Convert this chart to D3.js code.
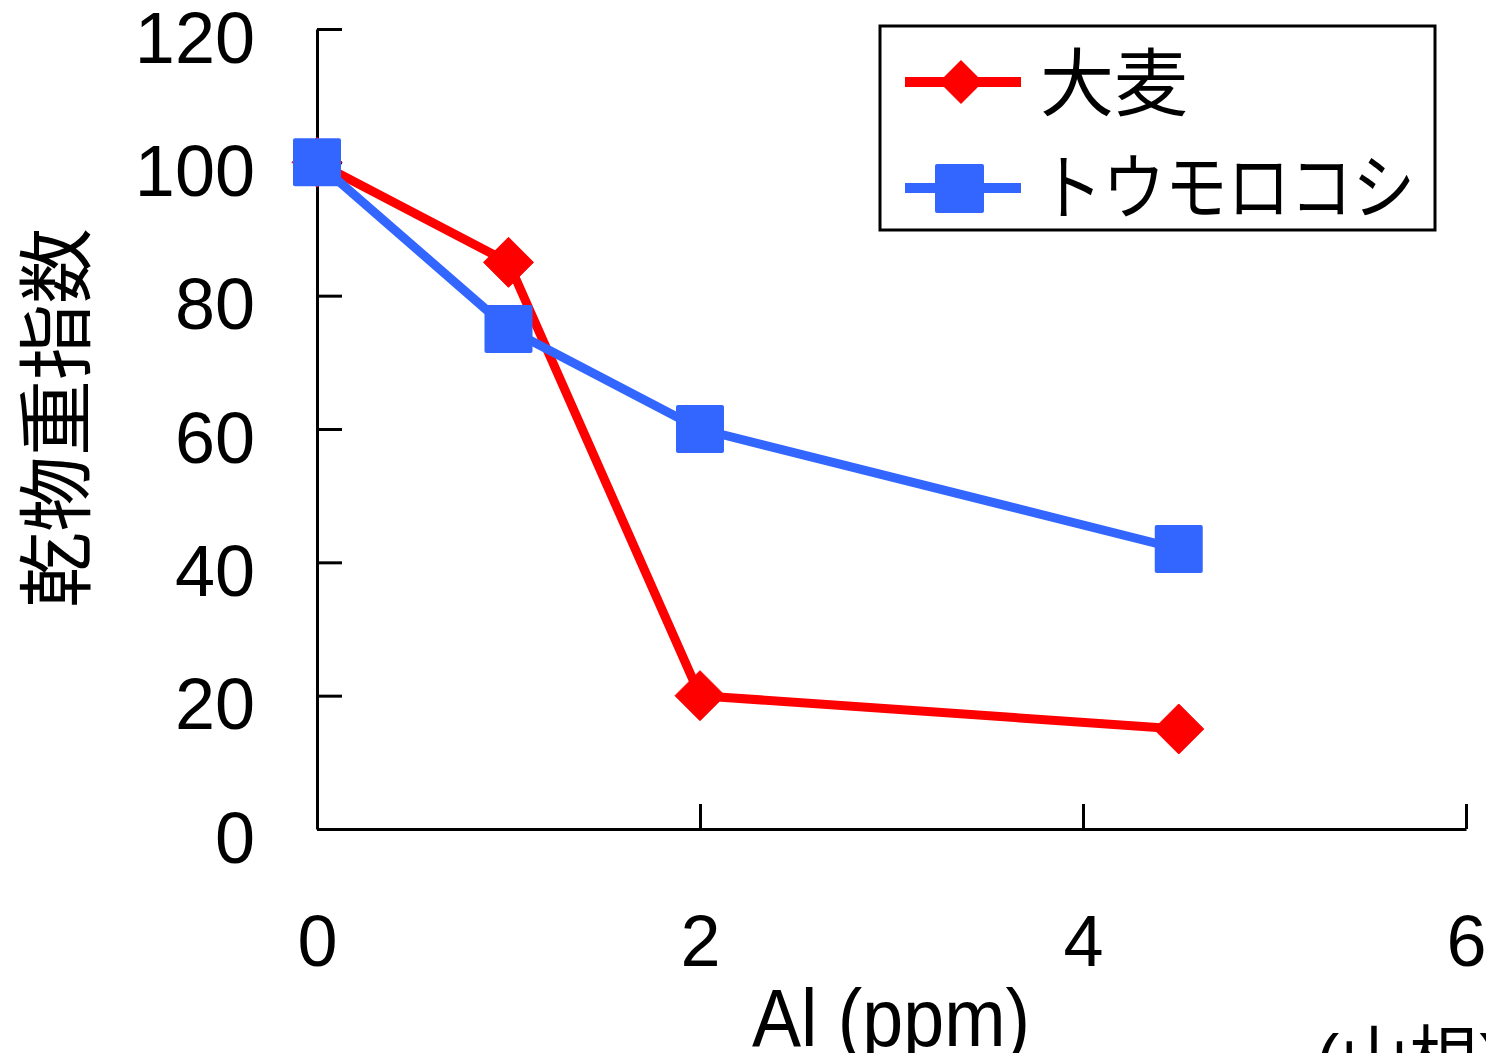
<!DOCTYPE html>
<html>
<head>
<meta charset="utf-8">
<script src="https://cdn.jsdelivr.net/npm/d3@7"></script>
<style>
  body { margin: 0; background: #fff; }
  text { font-family: "Liberation Sans", "Noto Sans CJK JP", sans-serif; fill: #000; }
</style>
</head>
<body>
<div id="chart"></div>
<script>
// data
var alPpm = [0, 1, 2, 4.5];
var barley = [100, 85, 20, 15];      // 大麦
var corn = [100, 75, 60, 42];        // トウモロコシ
var xTicks = [0, 2, 4, 6];
var yTicks = [0, 20, 40, 60, 80, 100, 120];
var seriesNames = ["大麦", "トウモロコシ"];

var W = 1486, H = 1053;
var svg = d3.select("#chart").append("svg")
    .attr("width", W)
    .attr("height", H);

var x = d3.scaleLinear().domain([0, 6]).range([317, 1466]);
var y = d3.scaleLinear().domain([0, 120]).range([829, 29]);

// y axis, ticks pointing inward
var yAxis = svg.append("g")
    .attr("transform", "translate(" + x(0) + ",0)")
    .call(d3.axisLeft(y).tickValues(yTicks).tickFormat(d3.format("d"))
      .tickSize(-25).tickSizeOuter(0).tickPadding(62));

// x axis, ticks pointing up, labels far below
var xAxis = svg.append("g")
    .attr("transform", "translate(0," + y(0) + ")")
    .call(d3.axisBottom(x).tickValues(xTicks).tickFormat(d3.format("d"))
      .tickSize(-25).tickSizeOuter(0).tickPadding(86));

[yAxis, xAxis].forEach(function (g) {
  g.select(".domain").attr("stroke", "#000").attr("stroke-width", 3);
  g.selectAll(".tick line").attr("stroke", "#000").attr("stroke-width", 3);
  g.selectAll(".tick text")
    .style("font-family", "Liberation Sans, sans-serif")
    .style("font-size", "72px")
    .attr("fill", "#000");
});
yAxis.selectAll(".tick text").attr("dy", "0.46em");

var line = d3.line()
    .x(function (d) { return x(d[0]); })
    .y(function (d) { return y(d[1]); });

var redData = alPpm.map(function (v, i) { return [v, barley[i]]; });
var blueData = alPpm.map(function (v, i) { return [v, corn[i]]; });

svg.append("path")
    .datum(redData)
    .attr("d", line)
    .attr("fill", "none")
    .attr("stroke", "#ff0000")
    .attr("stroke-width", 9)
    .attr("stroke-linejoin", "round");

svg.selectAll(".dia")
    .data(redData)
    .enter()
    .append("path")
      .attr("class", "dia")
      .attr("d", "M0,-25L25,0L0,25L-25,0Z")
      .attr("transform", function (d) { return "translate(" + x(d[0]) + "," + y(d[1]) + ")"; })
      .attr("fill", "#ff0000")
      .attr("stroke", "#ff0000")
      .attr("stroke-width", 1)
      .attr("stroke-linejoin", "round");

svg.append("path")
    .datum(blueData)
    .attr("d", line)
    .attr("fill", "none")
    .attr("stroke", "#3366ff")
    .attr("stroke-width", 9)
    .attr("stroke-linejoin", "round");

svg.selectAll(".sq")
    .data(blueData)
    .enter()
    .append("rect")
      .attr("class", "sq")
      .attr("x", function (d) { return x(d[0]) - 24; })
      .attr("y", function (d) { return y(d[1]) - 24; })
      .attr("width", 48)
      .attr("height", 48)
      .attr("rx", 2)
      .attr("fill", "#3366ff");

// legend
var legend = svg.append("g");
legend.append("rect")
    .attr("x", 880).attr("y", 26)
    .attr("width", 555).attr("height", 204)
    .attr("fill", "#fff")
    .attr("stroke", "#000")
    .attr("stroke-width", 3);

legend.append("line")
    .attr("x1", 905).attr("x2", 1021).attr("y1", 82).attr("y2", 82)
    .attr("stroke", "#ff0000").attr("stroke-width", 10);
legend.append("path")
    .attr("d", "M0,-22L22,0L0,22L-22,0Z")
    .attr("transform", "translate(961,82)")
    .attr("fill", "#ff0000");
legend.append("text")
    .attr("x", 1040).attr("y", 84)
    .attr("dominant-baseline", "central")
    .style("font-size", "74px")
    .text(seriesNames[0]);

legend.append("line")
    .attr("x1", 905).attr("x2", 1021).attr("y1", 188).attr("y2", 188)
    .attr("stroke", "#3366ff").attr("stroke-width", 10);
legend.append("rect")
    .attr("x", 935).attr("y", 164).attr("width", 49).attr("height", 49).attr("rx", 2)
    .attr("fill", "#3366ff");
legend.append("text")
    .attr("x", 1040).attr("y", 188)
    .attr("dominant-baseline", "central")
    .attr("textLength", 375)
    .attr("lengthAdjust", "spacingAndGlyphs")
    .style("font-size", "72px")
    .text(seriesNames[1]);

// axis titles
svg.append("text")
    .attr("transform", "translate(57,418) rotate(-90)")
    .attr("text-anchor", "middle")
    .attr("dominant-baseline", "central")
    .style("font-size", "76px")
    .text("乾物重指数");

svg.append("text")
    .attr("x", 891).attr("y", 1046)
    .attr("text-anchor", "middle")
    .attr("textLength", 278)
    .attr("lengthAdjust", "spacingAndGlyphs")
    .style("font-size", "82px")
    .text("Al (ppm)");

// source note, cut off at the bottom edge
svg.append("text")
    .attr("x", 1316).attr("y", 1084)
    .style("font-size", "70px")
    .text("(山根)");
</script>
</body>
</html>
